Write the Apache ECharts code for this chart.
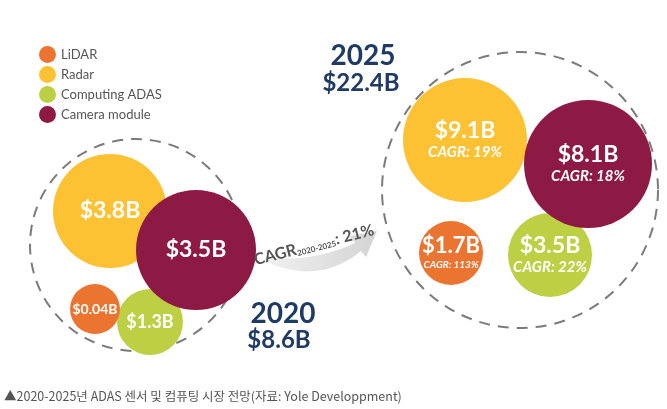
<!DOCTYPE html>
<html><head><meta charset="utf-8">
<script src="https://cdn.jsdelivr.net/npm/echarts@6/dist/echarts.min.js"></script>
<style>html,body{margin:0;padding:0;background:#fff}#c{width:667px;height:409px}</style>
</head><body><div id="c"></div>
<script>
// ---- data ----
const categories = ['LiDAR', 'Radar', 'Computing ADAS', 'Camera module'];
const years = ['2020', '2025'];
const values2020 = [0.04, 3.8, 1.3, 3.5];      // $B
const values2025 = [1.7, 9.1, 3.5, 8.1];       // $B
const cagr2025 = [113, 19, 22, 18];            // %
const totals = [8.6, 22.4];                    // $B
const totalCagr = 21;                          // %
const cagrPeriod = '2020-2025';
const caption = '▲2020-2025년 ADAS 센서 및 컴퓨팅 시장 전망(자료: Yole Developpment)';

// ---- layout (bubble centres and radii in chart units) ----
const layout2020 = { x: [95, 110, 150, 196], y: [309, 211, 322, 250], r: [25, 57, 33, 60] };
const layout2025 = { x: [451, 465, 550, 588], y: [253, 140, 255, 164], r: [32, 62, 42, 64] };
const groupLayout = { x: [136, 520], y: [245, 190], r: [106, 138] };

const colors = ['#EC7431', '#FDC233', '#BDD043', '#8D1A45'];
const navy = '#1F3A64';
const fontMain = 'Lato, "Open Sans", sans-serif';

const vSize2020 = [14, 23, 18, 23];
const vSize2025 = [22, 23, 23, 23];
const cSize2025 = [10, 15, 15, 15];
const drawOrder = [2, 0, 1, 3];

const series = [];
series.push({
  type: 'scatter', name: 'total', silent: true, z: 1,
  data: totals.map((t, i) => ({ value: [groupLayout.x[i], groupLayout.y[i], t], symbolSize: groupLayout.r[i] * 2 })),
  itemStyle: { color: 'rgba(0,0,0,0)', borderColor: '#5a5a5a', borderWidth: 2, borderType: [11, 8] },
  label: { show: false }
});
drawOrder.forEach((ci, k) => {
  series.push({
    type: 'scatter', name: categories[ci], z: 2 + k,
    itemStyle: { color: colors[ci], opacity: 1 },
    emphasis: { disabled: true },
    data: [
      { value: [layout2020.x[ci], layout2020.y[ci], values2020[ci]], symbolSize: layout2020.r[ci] * 2,
        label: { show: true, position: 'inside', formatter: '{v|$' + values2020[ci] + 'B}',
          rich: { v: { color: '#fff', fontWeight: 'bold', fontSize: vSize2020[ci], fontFamily: fontMain } } } },
      { value: [layout2025.x[ci], layout2025.y[ci], values2025[ci]], symbolSize: layout2025.r[ci] * 2,
        label: { show: true, position: 'inside', formatter: '{v|$' + values2025[ci] + 'B}\n{c|CAGR: ' + cagr2025[ci] + '%}',
          rich: {
            v: { color: '#fff', fontWeight: 'bold', fontSize: vSize2025[ci], fontFamily: fontMain, lineHeight: vSize2025[ci] + 2 },
            c: { color: '#fff', fontWeight: 'bold', fontStyle: 'italic', fontSize: cSize2025[ci], fontFamily: fontMain, lineHeight: cSize2025[ci] + 4 }
          } } }
    ]
  });
});

// curved arrow outline (decoration) built from quadratic curves
function quad(p0, p1, p2, n) {
  const pts = [];
  for (let i = 0; i <= n; i++) {
    const t = i / n, a = (1 - t) * (1 - t), b = 2 * (1 - t) * t, c = t * t;
    pts.push([a * p0[0] + b * p1[0] + c * p2[0], a * p0[1] + b * p1[1] + c * p2[1]]);
  }
  return pts;
}
const arrowPts = []
  .concat(quad([265, 258], [315, 262], [355, 243], 20))
  .concat([[350, 236], [377, 231], [366, 257]])
  .concat(quad([361, 251], [318, 286], [265, 261], 20));

const chart = echarts.init(document.getElementById('c'));
chart.setOption({
  animation: false,
  backgroundColor: '#fff',
  grid: { left: 0, right: 0, top: 0, bottom: 0 },
  xAxis: { type: 'value', min: 0, max: 667, show: false },
  yAxis: { type: 'value', min: 0, max: 409, inverse: true, show: false },
  legend: {
    data: categories, orient: 'vertical', left: 34, top: 41, itemGap: 3,
    icon: 'circle', itemWidth: 17, itemHeight: 17,
    textStyle: { color: '#555', fontSize: 13, fontFamily: fontMain }
  },
  series: series,
  graphic: [
    { type: 'polygon', z: 0, shape: { points: arrowPts },
      style: { fill: { type: 'linear', x: 0, y: 0, x2: 1, y2: 0, colorStops: [{ offset: 0, color: '#f0f0f0' }, { offset: 1, color: '#d4d4d4' }] } } },
    { type: 'text', x: 314, y: 245, rotation: 0.25, z: 10,
      style: { text: '{a|CAGR}{s|' + cagrPeriod + '}{a|: ' + totalCagr + '%}', align: 'center', verticalAlign: 'middle',
        rich: { a: { fontSize: 16, fontWeight: 'bold', fill: '#555', fontFamily: fontMain, lineHeight: 19 },
                s: { fontSize: 8, fontWeight: 'bold', fill: '#555', fontFamily: fontMain, padding: [8, 0, 0, 0], lineHeight: 19 } } } },
    { type: 'text', x: 283, y: 314, z: 10, style: { text: years[0], fill: navy, font: 'bold 28px ' + fontMain, align: 'center', verticalAlign: 'middle' } },
    { type: 'text', x: 279, y: 340, z: 10, style: { text: '$' + totals[0] + 'B', fill: navy, font: 'bold 24px ' + fontMain, align: 'center', verticalAlign: 'middle' } },
    { type: 'text', x: 363, y: 56, z: 10, style: { text: years[1], fill: navy, font: 'bold 28px ' + fontMain, align: 'center', verticalAlign: 'middle' } },
    { type: 'text', x: 361, y: 83, z: 10, style: { text: '$' + totals[1] + 'B', fill: navy, font: 'bold 24px ' + fontMain, align: 'center', verticalAlign: 'middle' } },
    { type: 'text', x: 4, y: 396, z: 10, style: { text: caption, fill: '#555', font: '12.5px "Noto Sans CJK KR", sans-serif', align: 'left', verticalAlign: 'middle' } }
  ]
});
</script></body></html>
